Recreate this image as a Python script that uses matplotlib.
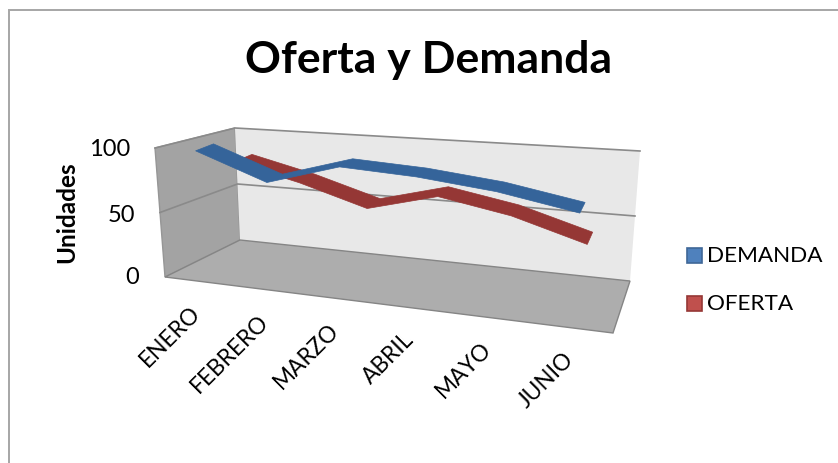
import matplotlib
matplotlib.use('Agg')
import matplotlib.pyplot as plt
from matplotlib.patches import Polygon, Rectangle
import numpy as np

plt.rcParams['font.family'] = ['Lato', 'DejaVu Sans']

meses = ['ENERO', 'FEBRERO', 'MARZO', 'ABRIL', 'MAYO', 'JUNIO']
demanda = [100, 80, 96, 93, 87, 77]
oferta = [82, 69, 53, 67, 57, 41]
ticks_y = [0, 50, 100]

# esquinas de la caja 3D en pixeles (frente/fondo, izq/der, abajo/arriba)
F_IZQ_0, F_IZQ_1 = np.array([165, 277.]), np.array([155, 148.])
F_DER_0, F_DER_1 = np.array([613, 333.]), np.array([625, 183.])
B_IZQ_0, B_IZQ_1 = np.array([240, 240.]), np.array([235, 128.])
B_DER_0, B_DER_1 = np.array([630, 281.]), np.array([640, 151.])
PERSP = 1.15
GROSOR = 1.5  # grosor de la cinta, en unidades del eje y


def proy(x, v, z):
    # x 0-1 a lo largo, v 0-1 altura, z 0-1 profundidad
    u = x / (PERSP * (1 - x) + x)
    fa = F_IZQ_0 + (F_DER_0 - F_IZQ_0) * u
    fb = F_IZQ_1 + (F_DER_1 - F_IZQ_1) * u
    ba = B_IZQ_0 + (B_DER_0 - B_IZQ_0) * u
    bb = B_IZQ_1 + (B_DER_1 - B_IZQ_1) * u
    f = fa + (fb - fa) * v
    b = ba + (bb - ba) * v
    return f + (b - f) * z


def cinta(ax, valores, z0, z1, color):
    n = len(valores)
    xs = [(i + 0.5) / n for i in range(n)]
    frente = [proy(x, (v - GROSOR) / 100, z0) for x, v in zip(xs, valores)]
    fondo = [proy(x, v / 100, z1) for x, v in zip(xs, valores)]
    ax.add_patch(Polygon(frente + fondo[::-1], closed=True, fc=color, ec=color, lw=0.5, zorder=5))


fig = plt.figure(figsize=(8.38, 4.63), dpi=100)
ax = fig.add_axes([0, 0, 1, 1])
ax.set_xlim(0, 838)
ax.set_ylim(463, 0)
ax.axis('off')

ax.add_patch(Rectangle((9, 9.5), 860, 470, fc='white', ec='#a6a6a6', lw=1.4))

# paredes y piso
ax.add_patch(Polygon([F_IZQ_0, F_IZQ_1, B_IZQ_1, B_IZQ_0], fc='#a3a3a3', ec='#969696', lw=1))
ax.add_patch(Polygon([B_IZQ_0, B_IZQ_1, B_DER_1, B_DER_0], fc='#e8e8e8', ec='none'))
ax.add_patch(Polygon([F_IZQ_0, B_IZQ_0, B_DER_0, F_DER_0], fc='#adadad', ec='#858585', lw=1))
for t in ticks_y[1:]:
    v = t / 100
    pts = [proy(0, v, 0), proy(0, v, 1), proy(1, v, 1)]
    ax.plot(*zip(*pts), color='#8a8a8a', lw=1.2, zorder=2)

cinta(ax, oferta, 0.58, 0.82, '#953735')
cinta(ax, demanda, 0.08, 0.32, '#35649a')

ax.text(429, 60, 'Oferta y Demanda', fontsize=32, fontweight='bold', ha='center', va='center')
ax.text(67, 212, 'Unidades', fontsize=17.5, fontweight='bold', rotation=90, ha='center', va='center')

for t, x_der, y in zip(ticks_y, [139, 135, 130], [277, 215, 149]):
    ax.text(x_der, y, str(t), fontsize=17, ha='right', va='center')

for i, m in enumerate(meses):
    p = proy((i + 0.5) / len(meses), 0, 0)
    ax.text(p[0] - 8, p[1] + 21, m, fontsize=16.3, rotation=45, ha='right', va='top', rotation_mode='anchor')

# leyenda
for y, nombre, fc, ec in [(256, 'DEMANDA', '#4f81bd', '#3f6797'), (304, 'OFERTA', '#c0504d', '#953735')]:
    ax.add_patch(Rectangle((686.5, y - 8), 15, 15, fc=fc, ec=ec, lw=1.2))
    ax.text(707, y, nombre, fontsize=16.2, ha='left', va='center')

fig.savefig('out.png', dpi=100)
